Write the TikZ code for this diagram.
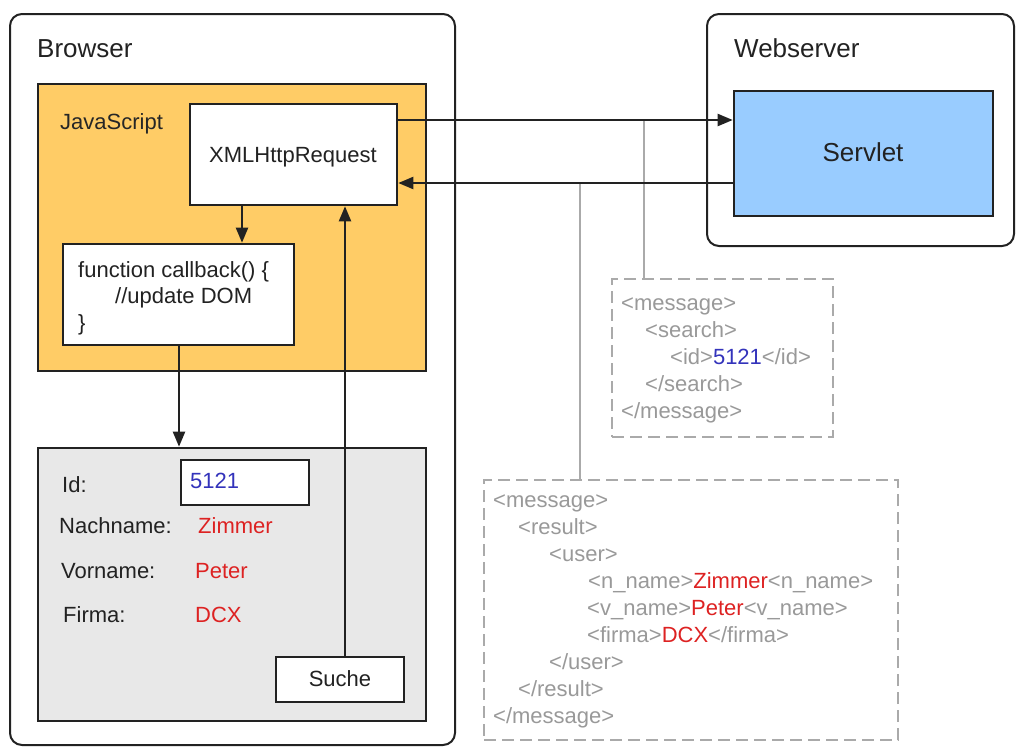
\documentclass[tikz,border=0pt]{standalone}
\usepackage{fontspec}
\setmainfont{Liberation Sans}
\usetikzlibrary{arrows.meta,fit}
\definecolor{jsorange}{HTML}{FFCC66}
\definecolor{servblue}{HTML}{99CCFF}
\definecolor{formgrey}{HTML}{E8E8E8}
\definecolor{ink}{HTML}{222222}
\definecolor{xmlgrey}{HTML}{999999}
\definecolor{linkgrey}{HTML}{AAAAAA}
\definecolor{valblue}{HTML}{3333BB}
\definecolor{valred}{HTML}{DD2222}

\begin{document}
\begin{tikzpicture}[x=1pt,y=-1pt,
  container/.style={draw=ink,line width=2pt,rounded corners=12pt,inner sep=0pt},
  plainbox/.style={draw=ink,line width=2.6pt,inner sep=0pt},
  msgbox/.style={draw=linkgrey,line width=1.8pt,dash pattern=on 12pt off 6pt,inner sep=0pt},
  title/.style={font=\fontsize{26}{30}\selectfont,text=ink,inner sep=0pt},
  txt/.style={font=\fontsize{22}{26}\selectfont,text=ink,inner sep=0pt},
  xml/.style={font=\fontsize{22}{26}\selectfont,text=xmlgrey,inner sep=0pt,anchor=base west},
  arr/.style={draw=ink,line width=2.2pt,-{Triangle[length=15pt,width=12pt]}},
  tap/.style={draw=linkgrey,line width=1.6pt}]
\useasboundingbox (0,0) rectangle (1016,747);

% outer containers
\node[container,fit={(10,14) (455,745)}] (browser) {};
\node[title,anchor=base west] (browsert) at (37,57) {Browser};
\node[container,fit={(707,14) (1014,246)}] (web) {};
\node[title,anchor=base west] (webt) at (734,57) {Webserver};

% JavaScript area
\node[plainbox,fill=jsorange,fit={(38,84) (426,371)}] (js) {};
\node[txt,anchor=base west,text=black!85] (jst) at (60,129) {JavaScript};
\node[plainbox,fill=white,fit={(190,104) (397,205)}] (xhr) {};
\node[txt,anchor=base] (xhrt) at (293,162) {XMLHttpRequest};
\node[plainbox,fill=white,fit={(63,244) (294,345)}] (cb) {};
\node[txt,anchor=base west] (cb1) at (78,277) {function callback() \{};
\node[txt,anchor=base west] (cb2) at (115,303) {//update DOM};
\node[txt,anchor=base west] (cb3) at (78,330) {\}};

% HTML form
\node[plainbox,fill=formgrey,fit={(38,448) (426,721)}] (form) {};
\node[plainbox,fill=white,fit={(181,460) (309,505)}] (idfield) {};
\node[txt,anchor=base west] (idl) at (62,492) {Id:};
\node[txt,anchor=base west,text=valblue] (idv) at (190,488) {5121};
\node[txt,anchor=base west] (nnl) at (59,533) {Nachname:};
\node[txt,anchor=base west,text=valred] (nnv) at (198,533) {Zimmer};
\node[txt,anchor=base west] (vnl) at (61,578) {Vorname:};
\node[txt,anchor=base west,text=valred] (vnv) at (195,578) {Peter};
\node[txt,anchor=base west] (fil) at (63,622) {Firma:};
\node[txt,anchor=base west,text=valred] (fiv) at (195,622) {DCX};
\node[plainbox,fill=white,fit={(276,657) (404,702)}] (suche) {};
\node[txt,anchor=base] (sucht) at (340,686) {Suche};

% servlet
\node[plainbox,fill=servblue,fit={(734,91) (993,216)}] (servlet) {};
\node[title,anchor=base] (servt) at (863,161) {Servlet};

% request message
\node[msgbox,fit={(612,279) (833,437)}] (req) {};
\node[xml] at (621,310) {<message>};
\node[xml] at (645,337) {<search>};
\node[xml] at (670,364) {<id>\textcolor{valblue}{5121}</id>};
\node[xml] at (645,391) {</search>};
\node[xml] at (621,418) {</message>};

% response message
\node[msgbox,fit={(484,480) (898,740)}] (resp) {};
\node[xml] at (493,507) {<message>};
\node[xml] at (518,534) {<result>};
\node[xml] at (549,561) {<user>};
\node[xml] at (588,588) {<n\_name>\textcolor{valred}{Zimmer}<n\_name>};
\node[xml] at (587,615) {<v\_name>\textcolor{valred}{Peter}<v\_name>};
\node[xml] at (587,642) {<firma>\textcolor{valred}{DCX}</firma>};
\node[xml] at (549,669) {</user>};
\node[xml] at (518,696) {</result>};
\node[xml] at (493,723) {</message>};

% taps from the wires to the messages
\coordinate (reqtap) at (644,120);
\coordinate (resptap) at (580,183);
\draw[tap] (reqtap) -- (reqtap |- req.north);
\draw[tap] (resptap) -- (resptap |- resp.north);

% request / response wires
\draw[arr] (xhr.east |- 0,120) -- (servlet.west |- 0,120);
\draw[arr] (servlet.west |- 0,183) -- (xhr.east |- 0,183);

% flow inside the browser
\draw[arr] (xhr.south -| 242,0) -- (cb.north -| 242,0);
\draw[arr] (cb.south -| 179,0) -- (form.north -| 179,0);
\draw[arr] (suche.north -| 345,0) -- (xhr.south -| 345,0);
\end{tikzpicture}
\end{document}
